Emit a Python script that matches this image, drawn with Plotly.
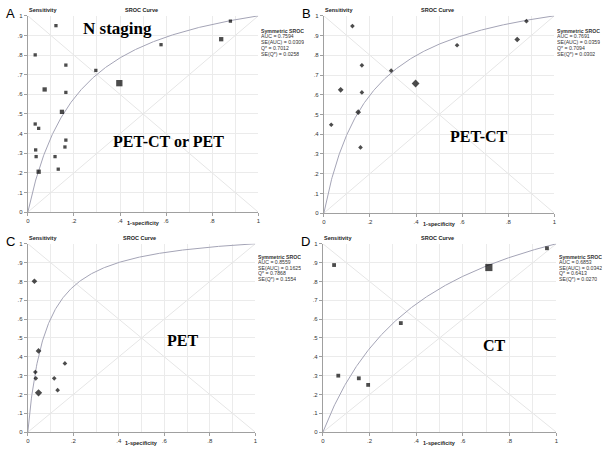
import numpy as np
import plotly.graph_objects as go

# ---------------- data ----------------
panel_letters = ["A", "B", "C", "D"]
panel_labels = ["PET-CT or PET", "PET-CT", "PET", "CT"]

a_fpr = [0.122, 0.032, 0.165, 0.295, 0.073, 0.165, 0.148, 0.032, 0.047, 0.165,
         0.034, 0.161, 0.036, 0.118, 0.047, 0.132, 0.397, 0.578, 0.839, 0.879]
a_sens = [0.950, 0.801, 0.749, 0.722, 0.625, 0.610, 0.511, 0.449, 0.427, 0.367,
          0.317, 0.332, 0.283, 0.283, 0.206, 0.219, 0.657, 0.853, 0.881, 0.973]
a_weight = [1, 1, 1, 1, 2, 1, 2, 1, 1, 1, 1, 1, 1, 1, 2, 1, 3, 1, 2, 1]

b_fpr = [0.124, 0.165, 0.292, 0.073, 0.165, 0.149, 0.032, 0.159, 0.398, 0.578, 0.839, 0.879]
b_sens = [0.948, 0.749, 0.722, 0.625, 0.612, 0.512, 0.448, 0.333, 0.657, 0.851, 0.880, 0.973]
b_weight = [1, 1, 1, 2, 1, 2, 1, 1, 3, 1, 2, 1]

c_fpr = [0.029, 0.047, 0.163, 0.033, 0.035, 0.116, 0.047, 0.131]
c_sens = [0.801, 0.431, 0.365, 0.319, 0.286, 0.286, 0.209, 0.223]
c_weight = [2, 2, 1, 1, 1, 1, 3, 1]

d_fpr = [0.048, 0.066, 0.154, 0.194, 0.334, 0.711, 0.960]
d_sens = [0.887, 0.300, 0.286, 0.251, 0.579, 0.874, 0.976]
d_weight = [1, 1, 1, 1, 1, 3, 1]

auc = [0.7594, 0.7691, 0.8559, 0.6853]
se_auc = [0.0309, 0.0359, 0.1625, 0.0342]
q_star = [0.7012, 0.7094, 0.7868, 0.6413]
se_q = [0.0258, 0.0302, 0.1554, 0.0270]

y_ticks = [0, 0.1, 0.2, 0.3, 0.4, 0.5, 0.6, 0.7, 0.8, 0.9, 1]
y_ticktext = ["0", ".1", ".2", ".3", ".4", ".5", ".6", ".7", ".8", ".9", "1"]
x_ticks = [0, 0.2, 0.4, 0.6, 0.8, 1]
x_ticktext = ["0", ".2", ".4", ".6", ".8", "1"]

# ---------------- layout geometry ----------------
W, H = 605, 450
# pixel boxes: (left, right, top, bottom)
boxes = [(26, 258, 13, 212), (324, 556, 13, 213), (26, 255, 244, 435), (323, 558, 244, 435)]
symbols = ["square", "diamond", "diamond", "square"]
size_maps = [{1: 3.3, 2: 4.3, 3: 6.3},
             {1: 3.6, 2: 4.4, 3: 6.0},
             {1: 3.6, 2: 4.4, 3: 5.6},
             {1: 3.8, 2: 5.0, 3: 7.2}]
series = [(a_fpr, a_sens, a_weight), (b_fpr, b_sens, b_weight),
          (c_fpr, c_sens, c_weight), (d_fpr, d_sens, d_weight)]
# label positions (px): center x, center y, font size
label_pos = [(168, 140, 16), (480, 135, 16), (182, 342, 16), (496, 347, 16)]
stats_top = [15, 15, 13, 13]
stats_step = [5.9, 5.9, 5.7, 5.7]

fig = go.Figure()
curve_f = np.linspace(0.0005, 0.9995, 400)

axis_common = dict(range=[0, 1], showgrid=True, gridcolor="#ebebeb", gridwidth=1, zeroline=False,
                   showline=True, linecolor="#a0a0a0", linewidth=1,
                   ticks="outside", ticklen=3, tickcolor="#a0a0a0",
                   tickfont=dict(size=6, color="#333", family="Arial"), fixedrange=True)

for i in range(4):
    l, r, t, b = boxes[i]
    xa = "x" if i == 0 else f"x{i+1}"
    ya = "y" if i == 0 else f"y{i+1}"
    xkey = "xaxis" if i == 0 else f"xaxis{i+1}"
    ykey = "yaxis" if i == 0 else f"yaxis{i+1}"
    fig.update_layout({
        xkey: dict(domain=[l / W, r / W], anchor=ya, tickvals=x_ticks, ticktext=x_ticktext,
                   minor=dict(dtick=0.1, tick0=0, showgrid=True, gridcolor="#ebebeb", ticks=""),
                   **axis_common),
        ykey: dict(domain=[1 - b / H, 1 - t / H], anchor=xa, tickvals=y_ticks, ticktext=y_ticktext,
                   **axis_common),
    })
    # diagonals
    fig.add_trace(go.Scatter(x=[0, 1], y=[0, 1], mode="lines", xaxis=xa, yaxis=ya,
                             line=dict(color="#e6e6e6", width=1), showlegend=False, hoverinfo="skip"))
    fig.add_trace(go.Scatter(x=[0, 1], y=[1, 0], mode="lines", xaxis=xa, yaxis=ya,
                             line=dict(color="#e6e6e6", width=1), showlegend=False, hoverinfo="skip"))
    # symmetric SROC curve from Q*
    a_par = 2 * np.log(q_star[i] / (1 - q_star[i]))
    tpr = 1 / (1 + np.exp(-a_par) * (1 - curve_f) / curve_f)
    fig.add_trace(go.Scatter(x=np.concatenate([[0], curve_f, [1]]), y=np.concatenate([[0], tpr, [1]]),
                             mode="lines", xaxis=xa, yaxis=ya,
                             line=dict(color="#a4a4b6", width=1), showlegend=False, hoverinfo="skip"))
    fx, sy, wt = series[i]
    sm = size_maps[i]
    fig.add_trace(go.Scatter(x=fx, y=sy, mode="markers", xaxis=xa, yaxis=ya,
                             marker=dict(symbol=symbols[i], color="black",
                                         size=[sm[w] for w in wt], line=dict(width=0)),
                             showlegend=False, cliponaxis=False))

    cx = (l + r) / 2
    ann = [
        dict(text=panel_letters[i], x=(l - 24) / W, y=1 - (t - 2) / H, xanchor="left", yanchor="middle",
             font=dict(size=13, family="Arial", color="black")),
        dict(text="<b>Sensitivity</b>", x=(l - 1) / W, y=1 - (t - 6) / H, xanchor="left", yanchor="middle",
             font=dict(size=5.5, family="Arial", color="#222")),
        dict(text="<b>SROC Curve</b>", x=(l + 0.5 * (r - l) - 2) / W, y=1 - (t - 6) / H, xanchor="center",
             yanchor="middle", font=dict(size=5.5, family="Arial", color="#222")),
        dict(text="<b>1-specificity</b>", x=cx / W, y=1 - (b + 11) / H, xanchor="center", yanchor="middle",
             font=dict(size=5.5, family="Arial", color="#222")),
        dict(text="<b>" + panel_labels[i] + "</b>", x=label_pos[i][0] / W, y=1 - label_pos[i][1] / H,
             xanchor="center", yanchor="middle",
             font=dict(size=label_pos[i][2], family="Liberation Serif", color="black")),
    ]
    stat_lines = ["<b>Symmetric SROC</b>", "AUC = %.4f" % auc[i], "SE(AUC) = %.4f" % se_auc[i],
                  "Q* = %.4f" % q_star[i], "SE(Q*) = %.4f" % se_q[i]]
    for k, s in enumerate(stat_lines):
        ann.append(dict(text=s, x=(r + 2) / W, y=1 - (t + stats_top[i] + k * stats_step[i]) / H,
                        xanchor="left", yanchor="middle", align="left", height=6, borderpad=0,
                        font=dict(size=5.2, family="Arial", color="#333")))
    for an in ann:
        an.update(xref="paper", yref="paper", showarrow=False)
        fig.add_annotation(**an)

fig.add_annotation(text="<b>N staging</b>", x=116 / W, y=1 - 26 / H, xref="paper", yref="paper",
                   xanchor="center", yanchor="middle", showarrow=False,
                   font=dict(size=17, family="Liberation Serif", color="black"))

fig.update_layout(width=W, height=H, margin=dict(l=0, r=0, t=0, b=0),
                  paper_bgcolor="white", plot_bgcolor="white", showlegend=False)

fig.write_html("out.html", config={"displayModeBar": False},
               post_script="document.body.style.margin='0';document.body.style.overflow='hidden';")
